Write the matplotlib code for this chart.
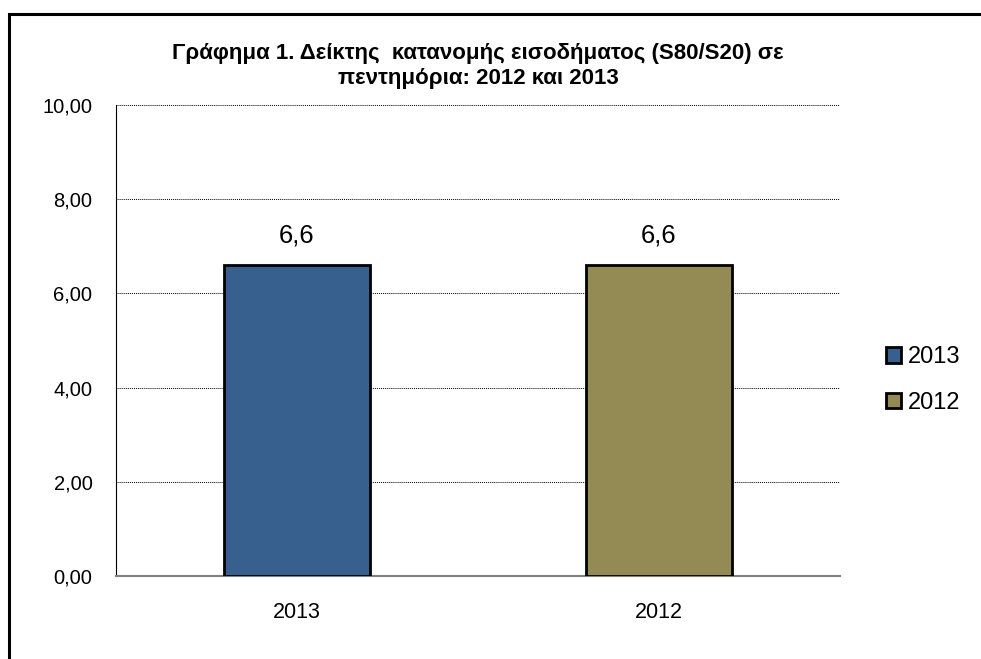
import matplotlib.pyplot as plt
from matplotlib.patches import Rectangle

plt.rcParams['font.family'] = ['Liberation Sans', 'DejaVu Sans']

categories = ['2013', '2012']
values = [6.6, 6.6]
colors = ['#37608F', '#948A54']
yticks = [0, 2, 4, 6, 8, 10]

fig = plt.figure(figsize=(9.81, 6.59), dpi=100)
ax = fig.add_axes([116 / 981, 1 - 576 / 659, 724 / 981, 471 / 659])

# outer chart frame (runs off right and bottom)
fig.patches.append(Rectangle((9 / 981, -0.1), 1.2, 1.1 - 14 / 659, transform=fig.transFigure,
                             fill=False, edgecolor='black', linewidth=2.2, zorder=0))

x = range(len(categories))
bars = ax.bar(x, values, width=0.406, color=colors, edgecolor='black', linewidth=2, zorder=3)
for b, v in zip(bars, values):
    ax.text(b.get_x() + b.get_width() / 2, v + 0.38, f'{v:.1f}'.replace('.', ','),
            ha='center', va='bottom', fontsize=18.5)

ax.set_xlim(-0.5, 1.5)
ax.set_ylim(0, 10)
ax.set_yticks(yticks)
ax.set_yticklabels([f'{t:.2f}'.replace('.', ',') for t in yticks], fontsize=14.5)
ax.set_xticks(list(x))
ax.set_xticklabels(categories, fontsize=15.5)
ax.tick_params(axis='y', length=0, pad=17)
ax.tick_params(axis='x', length=0, pad=19)
ax.yaxis.grid(True, linestyle=(0, (1, 1)), color='black', linewidth=0.7, zorder=0)
ax.spines['top'].set_visible(False)
ax.spines['right'].set_visible(False)
ax.spines['left'].set_color('black')
ax.spines['bottom'].set_color('#808080')
ax.spines['bottom'].set_linewidth(1.5)

fig.text(478 / 981, 1 - 66 / 659,
         'Γράφημα 1. Δείκτης  κατανομής εισοδήματος (S80/S20) σε\nπεντημόρια: 2012 και 2013',
         fontsize=16, fontweight='bold', ha='center', va='center', linespacing=1.2)

leg = ax.legend(bars, categories, loc='center left', bbox_to_anchor=(1.063, 0.416), frameon=False,
                fontsize=17, handlelength=0.65, handleheight=0.65, handletextpad=0.3,
                labelspacing=1.0, borderpad=0, borderaxespad=0)

fig.savefig('out.png', dpi=100)
